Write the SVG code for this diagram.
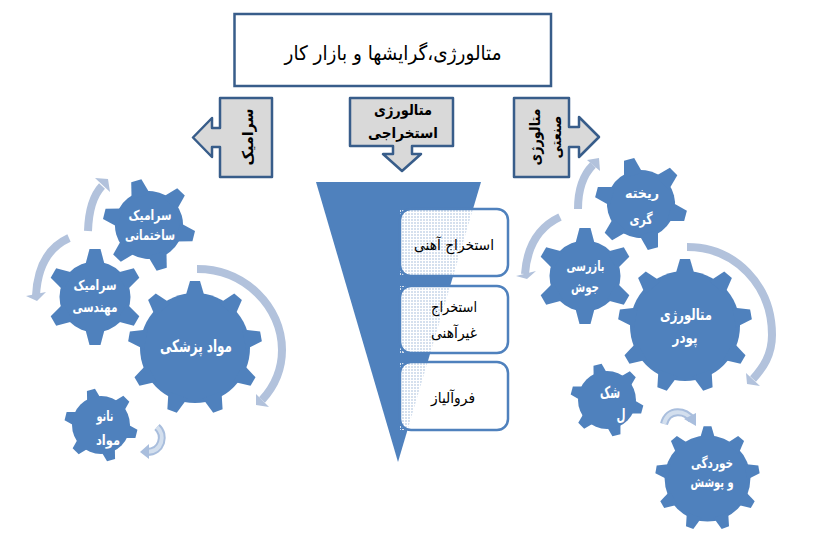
<svg xmlns="http://www.w3.org/2000/svg" width="836" height="540" viewBox="0 0 836 540">
<style>
text{font-family:"DejaVu Sans",sans-serif;direction:rtl;text-anchor:middle}
.b{fill:#4f81bd}
.box{fill:#fff;stroke:#385d8a;stroke-width:2.5}
.call{fill:#d9d9d9;stroke:#385d8a;stroke-width:2.5;stroke-linejoin:round}
.dk{fill:#000;font-weight:bold;font-size:15px}
.blk{fill:#000;font-size:15px}
.wt{fill:#fff;font-weight:bold;font-size:14px}
.arc{fill:none;stroke:#b2c2dc;stroke-width:8}
.hd{fill:#b2c2dc}
.arc2{fill:none;stroke:#a9bedd;stroke-width:8}
.arc3{fill:none;stroke:#d3dfee;stroke-width:4}
.rr{stroke:#4f81bd;stroke-width:2.5;fill:none}
</style>
<defs>
<polygon id="t6" class="b" points="-10,-31 -5.500,-48 5.500,-48 10,-31"/>
<polygon id="t9" class="b" points="-10,-50 -5,-67 5,-67 10,-50"/>
<g id="gear6">
<circle class="b" r="35.500"/>
<use href="#t6"/><use href="#t6" transform="rotate(60)"/><use href="#t6" transform="rotate(120)"/><use href="#t6" transform="rotate(180)"/><use href="#t6" transform="rotate(240)"/><use href="#t6" transform="rotate(300)"/>
</g>
<g id="gear9">
<circle class="b" r="55"/>
<use href="#t9"/><use href="#t9" transform="rotate(40)"/><use href="#t9" transform="rotate(80)"/><use href="#t9" transform="rotate(120)"/><use href="#t9" transform="rotate(160)"/><use href="#t9" transform="rotate(200)"/><use href="#t9" transform="rotate(240)"/><use href="#t9" transform="rotate(280)"/><use href="#t9" transform="rotate(320)"/>
</g>
<pattern id="dots" width="3" height="3" patternUnits="userSpaceOnUse"><rect width="2" height="2" fill="#d5e0ee"/></pattern>
<clipPath id="fun"><polygon points="316,182 481,182 398,462"/></clipPath>
</defs>

<g id="title"><rect class="box" x="234.500" y="14" width="316.500" height="72"/><text x="393" y="60" font-size="20" fill="#000" textLength="217" lengthAdjust="spacingAndGlyphs">متالورژی،گرایشها و بازار کار</text></g>

<g id="callout-ceramic"><path class="call" d="M220,98H272V177H220V147H212V157L193,137.500L212,118V128H220Z"/><text class="dk" transform="translate(253,137) rotate(-90)" textLength="57" lengthAdjust="spacingAndGlyphs">سرامیک</text></g>
<g id="callout-extract"><path class="call" d="M350,98H453V146H412V154H421L402,171L383,154H393V146H350Z"/><text class="dk" x="403" y="115" textLength="58" lengthAdjust="spacingAndGlyphs">متالورژی</text><text class="dk" x="403" y="138" textLength="70" lengthAdjust="spacingAndGlyphs">استخراجی</text></g>
<g id="callout-industry"><path class="call" d="M514,98H569V127H579V117L599,137L579,157V147H569V177H514Z"/><text class="dk" transform="translate(540,137) rotate(-90)" textLength="57" lengthAdjust="spacingAndGlyphs">متالورژی</text><text class="dk" transform="translate(561,137) rotate(-90)" textLength="43" lengthAdjust="spacingAndGlyphs">صنعتی</text></g>

<g id="funnel"><polygon class="b" points="316,182 481,182 398,462"/></g>
<g id="step-iron"><rect x="400" y="209" width="108" height="67" rx="11" fill="#fff"/><rect x="400" y="209" width="108" height="67" fill="url(#dots)" clip-path="url(#fun)"/><rect class="rr" x="400" y="209" width="108" height="67" rx="11"/><text class="blk" x="454" y="250" textLength="80" lengthAdjust="spacingAndGlyphs">استخراج آهنی</text></g>
<g id="step-nonferrous"><rect x="400" y="286" width="108" height="67" rx="11" fill="#fff"/><rect x="400" y="286" width="108" height="67" fill="url(#dots)" clip-path="url(#fun)"/><rect class="rr" x="400" y="286" width="108" height="67" rx="11"/><text class="blk" x="454" y="312" textLength="46" lengthAdjust="spacingAndGlyphs">استخراج</text><text class="blk" x="454" y="338" textLength="46" lengthAdjust="spacingAndGlyphs">غیرآهنی</text></g>
<g id="step-process"><rect x="400" y="362" width="108" height="68" rx="11" fill="#fff"/><rect x="400" y="362" width="108" height="68" fill="url(#dots)" clip-path="url(#fun)"/><rect class="rr" x="400" y="362" width="108" height="68" rx="11"/><text class="blk" x="453" y="403" textLength="44" lengthAdjust="spacingAndGlyphs">فروآلیاز</text></g>

<g id="connectors">
<path class="arc" d="M88,231Q89,200 102,186"/><polygon class="hd" points="95,178 108,179 110,192"/>
<path class="arc" d="M69,238Q38,252 36,296"/><polygon class="hd" points="26,296 37,301 46,292"/>
<path class="arc" d="M197,269C245,269 282,307 282,350C282,372 273,388 262,400"/><polygon class="hd" points="256,394 256,405 269,407"/>
<path class="arc2" d="M157,427C166,435 162,452 147,452"/><path class="arc3" d="M157,427C166,435 162,452 147,452"/><polygon points="149,444 140,452 149,459" fill="#a9bedd"/>
<path class="arc" d="M578,209Q578,180 593,165"/><polygon class="hd" points="587,160 599,158 600,171"/>
<path class="arc" d="M560,217Q528,232 525,274"/><polygon class="hd" points="516,276 527,279 536,271"/>
<path class="arc" d="M687,247C735,247 772,285 772,335C772,355 763,368 753,379"/><polygon class="hd" points="746,373 747,384 760,386"/>
<path class="arc2" d="M664,424C668,408 686,410 692,420"/><path class="arc3" d="M664,424C668,408 686,410 692,420"/><polygon points="684,419 696,413 696,426" fill="#a9bedd"/>
</g>

<g id="gear-building"><use href="#gear6" transform="translate(149,225) rotate(-16) scale(.96)"/><text class="wt" x="150" y="220" textLength="43" lengthAdjust="spacingAndGlyphs">سرامیک</text><text class="wt" x="150" y="240" textLength="50" lengthAdjust="spacingAndGlyphs">ساختمانی</text></g>
<g id="gear-engineering"><use href="#gear6" transform="translate(95,297)"/><text class="wt" x="95" y="290" textLength="43" lengthAdjust="spacingAndGlyphs">سرامیک</text><text class="wt" x="95" y="312" textLength="45" lengthAdjust="spacingAndGlyphs">مهندسی</text></g>
<g id="gear-medical"><use href="#gear9" transform="translate(195,348)"/><text class="wt" x="196" y="352" style="font-size:17px" textLength="72" lengthAdjust="spacingAndGlyphs">مواد پزشکی</text></g>
<g id="gear-nano"><use href="#gear6" transform="translate(101,425) rotate(-16) scale(.76)"/><circle class="b" cx="101" cy="425" r="29"/><text class="wt" x="105" y="421" textLength="17" lengthAdjust="spacingAndGlyphs">نانو</text><text class="wt" x="108" y="445" textLength="24" lengthAdjust="spacingAndGlyphs">مواد</text></g>

<g id="gear-casting"><use href="#gear6" transform="translate(641,204) rotate(-15) scale(.96)"/><text class="wt" x="642" y="198" textLength="34" lengthAdjust="spacingAndGlyphs">ریخته</text><text class="wt" x="641" y="224" textLength="23" lengthAdjust="spacingAndGlyphs">گری</text></g>
<g id="gear-welding"><use href="#gear6" transform="translate(585,276)"/><text class="wt" x="585.500" y="271" textLength="38" lengthAdjust="spacingAndGlyphs">بازرسی</text><text class="wt" x="585" y="292" textLength="28" lengthAdjust="spacingAndGlyphs">جوش</text></g>
<g id="gear-powder"><use href="#gear9" transform="translate(685,326)"/><text class="wt" x="686" y="320" style="font-size:16px" textLength="52" lengthAdjust="spacingAndGlyphs">متالورژی</text><text class="wt" x="685" y="343" style="font-size:16px" textLength="25" lengthAdjust="spacingAndGlyphs">پودر</text></g>
<g id="gear-forming"><use href="#gear6" transform="translate(607,400) rotate(-15) scale(.76)"/><circle class="b" cx="607" cy="400" r="29"/><text class="wt" x="610" y="398" style="font-size:16px" textLength="20" lengthAdjust="spacingAndGlyphs">شک</text><text class="wt" x="621" y="420" style="font-size:16px" textLength="9" lengthAdjust="spacingAndGlyphs">ل</text></g>
<g id="gear-corrosion"><use href="#gear9" transform="translate(707.500,478.500) scale(.78)"/><text class="wt" x="712" y="468" textLength="42" lengthAdjust="spacingAndGlyphs">خوردگی</text><text class="wt" x="712" y="487" textLength="43" lengthAdjust="spacingAndGlyphs">و پوشش</text></g>
</svg>
